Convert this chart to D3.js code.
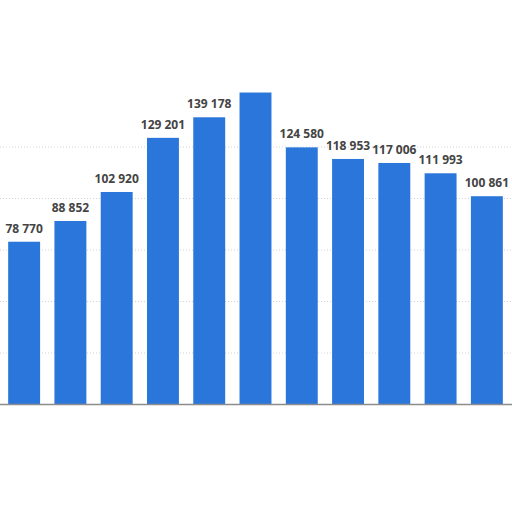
<!DOCTYPE html>
<html>
<head>
<meta charset="utf-8">
<script src="https://cdn.jsdelivr.net/npm/d3@7"></script>
<style>
  body { margin: 0; background: #fff; }
</style>
</head>
<body>
<svg id="chart" width="512" height="512"></svg>
<script>
// bar values, left to right (6th label hidden in the picture, value estimated)
const values = [78770, 88852, 102920, 129201, 139178, 151200, 124580, 118953, 117006, 111993, 100861];
const showLabel = [true, true, true, true, true, false, true, true, true, true, true];
const gridTicks = [25000, 50000, 75000, 100000, 125000];

const width = 512;
const height = 512;

const svg = d3.select("#chart");

const x = d3
  .scaleBand()
  .domain(values.map((d, i) => i))
  .range([1, 510])
  .paddingInner(0.31)
  .paddingOuter(0.155);

const y = d3.scaleLinear().domain([0, 150000]).range([404, 95]);

// dotted grid
svg
  .append("g")
  .selectAll("line")
  .data(gridTicks)
  .join("line")
  .attr("x1", 0)
  .attr("x2", width)
  .attr("y1", (d) => y(d) + 0.5)
  .attr("y2", (d) => y(d) + 0.5)
  .attr("stroke", "#d2d2d2")
  .attr("stroke-width", 1)
  .attr("stroke-dasharray", "1,2");

// bars
svg
  .append("g")
  .selectAll("rect")
  .data(values)
  .join("rect")
  .attr("x", (d, i) => x(i))
  .attr("y", (d) => y(d))
  .attr("width", x.bandwidth())
  .attr("height", (d) => y(0) - y(d))
  .attr("fill", "#2a76db");

// baseline
svg
  .append("line")
  .attr("x1", 0)
  .attr("x2", width)
  .attr("y1", y(0) + 0.5)
  .attr("y2", y(0) + 0.5)
  .attr("stroke", "#8c8c8c")
  .attr("stroke-width", 1.5);

// value labels
const fmt = (v) => d3.format(",")(v).replace(/,/g, " ");

svg
  .append("g")
  .selectAll("text")
  .data(values)
  .join("text")
  .attr("x", (d, i) => x(i) + x.bandwidth() / 2)
  .attr("y", (d) => y(d) - 9)
  .attr("text-anchor", "middle")
  .style("font", "bold 12px 'Open Sans', sans-serif")
  .attr("fill", "#444")
  .text((d, i) => (showLabel[i] ? fmt(d) : null));
</script>
</body>
</html>
